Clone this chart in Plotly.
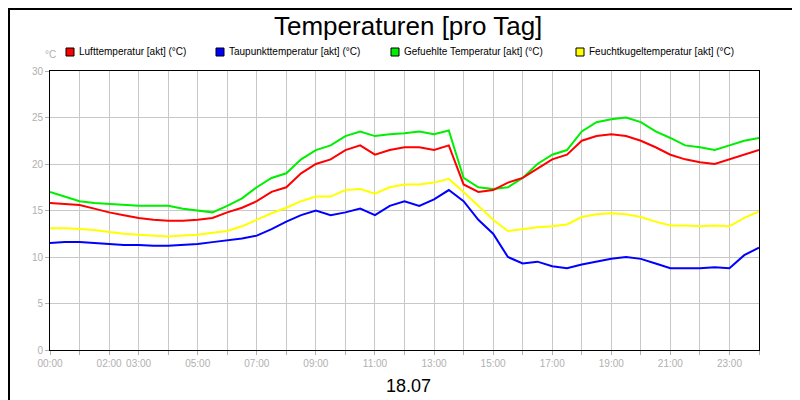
import plotly.graph_objects as go

hours = [i * 0.5 for i in range(49)]
luft = [15.8,15.7,15.6,15.2,14.8,14.5,14.2,14.0,13.9,13.9,14.0,14.2,14.8,15.3,16.0,17.0,17.5,19.0,20.0,20.5,21.5,22.0,21.0,21.5,21.8,21.8,21.5,22.0,17.8,17.0,17.2,18.0,18.5,19.5,20.5,21.0,22.5,23.0,23.2,23.0,22.5,21.8,21.0,20.5,20.2,20.0,20.5,21.0,21.5]
taupunkt = [11.5,11.6,11.6,11.5,11.4,11.3,11.3,11.2,11.2,11.3,11.4,11.6,11.8,12.0,12.3,13.0,13.8,14.5,15.0,14.5,14.8,15.2,14.5,15.5,16.0,15.5,16.2,17.2,16.0,14.0,12.5,10.0,9.3,9.5,9.0,8.8,9.2,9.5,9.8,10.0,9.8,9.3,8.8,8.8,8.8,8.9,8.8,10.2,11.0]
gefuehlt = [17.0,16.5,16.0,15.8,15.7,15.6,15.5,15.5,15.5,15.2,15.0,14.8,15.5,16.3,17.5,18.5,19.0,20.5,21.5,22.0,23.0,23.5,23.0,23.2,23.3,23.5,23.2,23.6,18.5,17.5,17.3,17.5,18.5,20.0,21.0,21.5,23.5,24.5,24.8,25.0,24.5,23.5,22.8,22.0,21.8,21.5,22.0,22.5,22.8]
feucht = [13.1,13.1,13.0,12.9,12.7,12.5,12.4,12.3,12.2,12.3,12.4,12.6,12.8,13.3,14.0,14.7,15.3,16.0,16.5,16.5,17.2,17.3,16.8,17.5,17.8,17.8,18.0,18.4,17.0,15.5,14.0,12.8,13.0,13.2,13.3,13.5,14.3,14.6,14.7,14.6,14.3,13.8,13.4,13.4,13.3,13.4,13.3,14.2,14.9]

names = ["Lufttemperatur [akt] (°C)", "Taupunkttemperatur [akt] (°C)",
         "Gefuehlte Temperatur [akt] (°C)", "Feuchtkugeltemperatur [akt] (°C)"]
colors = ["#ff0000", "#0000ff", "#00ee00", "#ffff00"]
series = [luft, taupunkt, gefuehlt, feucht]
legend_px = [62, 212, 387, 572]

tick_hours = list(range(25))
tick_text = ["00:00", "", "02:00", "03:00", "", "05:00", "", "07:00", "", "09:00", "", "11:00", "",
             "13:00", "", "15:00", "", "17:00", "", "19:00", "", "21:00", "", "23:00", ""]

W, H = 709.0, 279.0
def px(x): return (x - 42) / W
def py(y): return (342 - y) / H

fig = go.Figure()
for n, c, s in reversed(list(zip(names, colors, series))):
    fig.add_trace(go.Scatter(x=hours, y=s, mode="lines", line=dict(color=c, width=2),
                             name=n, showlegend=False, hoverinfo="skip"))

shapes = [dict(type="rect", xref="paper", yref="paper", x0=px(1), x1=px(799),
               y0=py(399), y1=py(1), line=dict(color="black", width=2))]
annotations = [
    dict(text="Temperaturen [pro Tag]", xref="paper", yref="paper", x=px(400), y=py(18),
         showarrow=False, xanchor="center", yanchor="middle", font=dict(size=26, color="black")),
    dict(text="°C", xref="paper", yref="paper", x=px(42), y=py(47), showarrow=False,
         xanchor="center", yanchor="middle", font=dict(size=10, color="#b0b0b0")),
    dict(text="18.07", xref="paper", yref="paper", x=px(400), y=py(378), showarrow=False,
         xanchor="center", yanchor="middle", font=dict(size=18, color="black")),
]
for n, c, lx in zip(names, colors, legend_px):
    shapes.append(dict(type="rect", xref="paper", yref="paper", x0=px(lx - 4), x1=px(lx + 4),
                       y0=py(48), y1=py(40), fillcolor=c, line=dict(color="black", width=1)))
    annotations.append(dict(text=n, xref="paper", yref="paper", x=px(lx + 7), y=py(44),
                            showarrow=False, xanchor="left", yanchor="middle",
                            font=dict(size=10, color="black")))

fig.update_layout(
    width=800, height=400, paper_bgcolor="white", plot_bgcolor="white",
    margin=dict(l=42, r=49, t=58, b=58, autoexpand=False),
    font=dict(family="Liberation Sans, Arial", color="black"),
    showlegend=False,
    xaxis=dict(range=[0, 24], tickvals=tick_hours, ticktext=tick_text, showgrid=True,
               gridcolor="#c8c8c8", gridwidth=1, tickfont=dict(size=10, color="#b0b0b0"),
               showline=True, linecolor="black", linewidth=1, mirror=True,
               ticks="outside", ticklen=4, tickcolor="#b0b0b0", zeroline=False),
    yaxis=dict(range=[0, 30], tickvals=[0, 5, 10, 15, 20, 25, 30], showgrid=True,
               gridcolor="#c8c8c8", tickfont=dict(size=10, color="#b0b0b0"),
               showline=True, linecolor="black", linewidth=1, mirror=True,
               ticks="outside", ticklen=4, tickcolor="#b0b0b0", zeroline=False),
    shapes=shapes, annotations=annotations,
)
fig.layout.margin.t = 63
fig.write_html("out.html")
